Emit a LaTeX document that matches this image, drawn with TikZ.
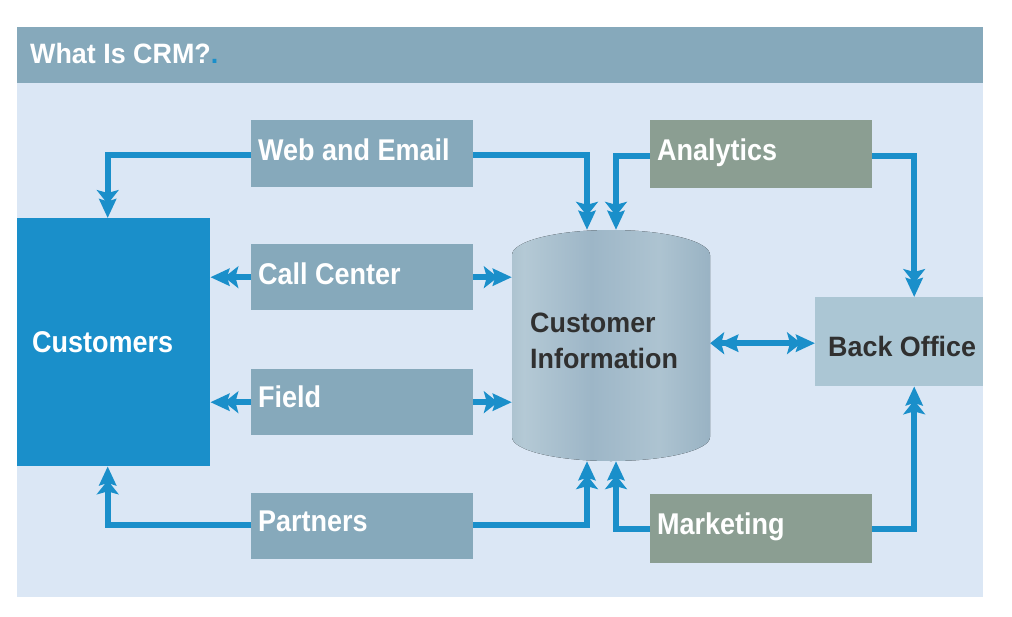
\documentclass[tikz,border=0pt]{standalone}
\usepackage{fontspec}
\usetikzlibrary{arrows.meta}
\newfontfamily\labfont{Liberation Sans}[FakeStretch=0.9]
\newfontfamily\titfont{Liberation Sans}[FakeStretch=0.96]
\definecolor{hdr}{HTML}{86A9BB}
\definecolor{panel}{HTML}{DBE7F5}
\definecolor{cblue}{HTML}{1A8FCA}
\definecolor{sage}{HTML}{8B9E92}
\definecolor{boff}{HTML}{ABC6D4}
\definecolor{darktxt}{HTML}{303030}
\definecolor{cyA}{HTML}{7391A8}
\definecolor{cyB}{HTML}{B4C9D5}
\definecolor{cyC}{HTML}{9DB6C7}
\definecolor{cyD}{HTML}{7393AA}
\pgfdeclarehorizontalshading{crmcyl}{100bp}{color(0bp)=(cyA); color(28bp)=(cyB); color(45bp)=(cyC); color(62bp)=(cyB!70!cyC); color(100bp)=(cyD)}
\tikzset{
  crmE/.tip={Stealth[length=14pt,width=22pt,inset=3pt,sep=-5pt] Stealth[length=19pt,width=17pt,inset=2.5pt]},
  crmS/.tip={Stealth[length=19pt,width=17pt,inset=2.5pt,sep=-5pt] Stealth[length=14pt,width=22pt,inset=3pt]},
  box/.style={rectangle, draw=none, inner sep=0pt, anchor=north west},
  chan/.style={box, fill=hdr},
  sagebox/.style={box, fill=sage},
  lab/.style={anchor=base west, inner sep=0pt, text=white, font=\labfont\bfseries\fontsize{30}{36}\selectfont},
  darklab/.style={anchor=base west, inner sep=0pt, text=darktxt, font=\titfont\bfseries\fontsize{28}{34}\selectfont},
  conn/.style={draw=cblue, line width=6pt, line cap=butt, line join=miter},
}
\begin{document}
\begin{tikzpicture}[x=1pt,y=-1pt]
\useasboundingbox (0,0) rectangle (1012,616);
\fill[white] (0,0) rectangle (1012,616);
% panel and header
\fill[panel] (17,83) rectangle (983,597);
\fill[hdr] (17,27) rectangle (983,83);
\node[anchor=base west, inner sep=0pt, text=white, font=\titfont\bfseries\fontsize{28}{34}\selectfont] (title) at (30,63) {What Is CRM?\textcolor{cblue}{.}};
% boxes
\node[box, fill=cblue, minimum width=193pt, minimum height=248pt] (customers) at (17,218) {};
\node[chan, minimum width=222pt, minimum height=67pt] (web) at (251,120) {};
\node[chan, minimum width=222pt, minimum height=66pt] (call) at (251,244) {};
\node[chan, minimum width=222pt, minimum height=66pt] (field) at (251,369) {};
\node[chan, minimum width=222pt, minimum height=66pt] (partners) at (251,493) {};
\node[sagebox, minimum width=222pt, minimum height=68pt] (analytics) at (650,120) {};
\node[sagebox, minimum width=222pt, minimum height=69pt] (marketing) at (650,494) {};
\node[box, fill=boff, minimum width=168pt, minimum height=89pt] (backoffice) at (815,297) {};
% cylinder
\fill[shading=crmcyl] (512,255) .. controls (512,241.2) and (556.3,230) .. (611,230)
  .. controls (665.7,230) and (710,241.2) .. (710,255) -- (710,437)
  .. controls (710,450.3) and (665.7,461) .. (611,461)
  .. controls (556.3,461) and (512,450.3) .. (512,437) -- cycle;
\node[draw=none, inner sep=0pt, minimum width=198pt, minimum height=231pt] (db) at (611,345.5) {};
% labels
\node[lab] (customerst) at (32,352) {Customers};
\node[lab] (webt) at (258,160) {Web and Email};
\node[lab] (callt) at (258,284) {Call Center};
\node[lab] (fieldt) at (258,407) {Field};
\node[lab] (partnerst) at (258,531) {Partners};
\node[lab] (analyticst) at (657,160) {Analytics};
\node[lab] (marketingt) at (657,534) {Marketing};
\node[darklab] (backofficet) at (828,356) {Back Office};
\node[darklab] (dbt1) at (530,332) {Customer};
\node[darklab] (dbt2) at (530,368) {Information};
% connectors
\draw[conn,-{crmE}] ([yshift=-1.5pt]web.west) -| ([xshift=-6pt]customers.north);
\draw[conn,-{crmE}] ([yshift=-1.5pt]web.east) -| ([xshift=-24pt]db.north);
\draw[conn,-{crmE}] ([yshift=-1.5pt]analytics.west) -| ([xshift=5pt]db.north);
\draw[conn,-{crmE}] ([yshift=-1.5pt]analytics.east) -| ([xshift=15pt]backoffice.north);
\draw[conn,-{crmE}] ([yshift=1pt]partners.west) -| ([xshift=-6pt]customers.south);
\draw[conn,-{crmE}] ([yshift=1pt]partners.east) -| ([xshift=-24pt]db.south);
\draw[conn,-{crmE}] (marketing.west) -| ([xshift=5pt]db.south);
\draw[conn,-{crmE}] (marketing.east) -| ([xshift=15pt]backoffice.south);
\draw[conn,-{crmE}] (call.west) -- (customers.east |- call.west);
\draw[conn,-{crmE}] (call.east) -- (db.west |- call.east);
\draw[conn,-{crmE}] (field.west) -- (customers.east |- field.west);
\draw[conn,-{crmE}] (field.east) -- (db.west |- field.east);
\draw[conn,{crmS}-{crmE}] ([yshift=-1.5pt]db.east |- backoffice.west) -- ([yshift=-1.5pt]backoffice.west);
\end{tikzpicture}
\end{document}
